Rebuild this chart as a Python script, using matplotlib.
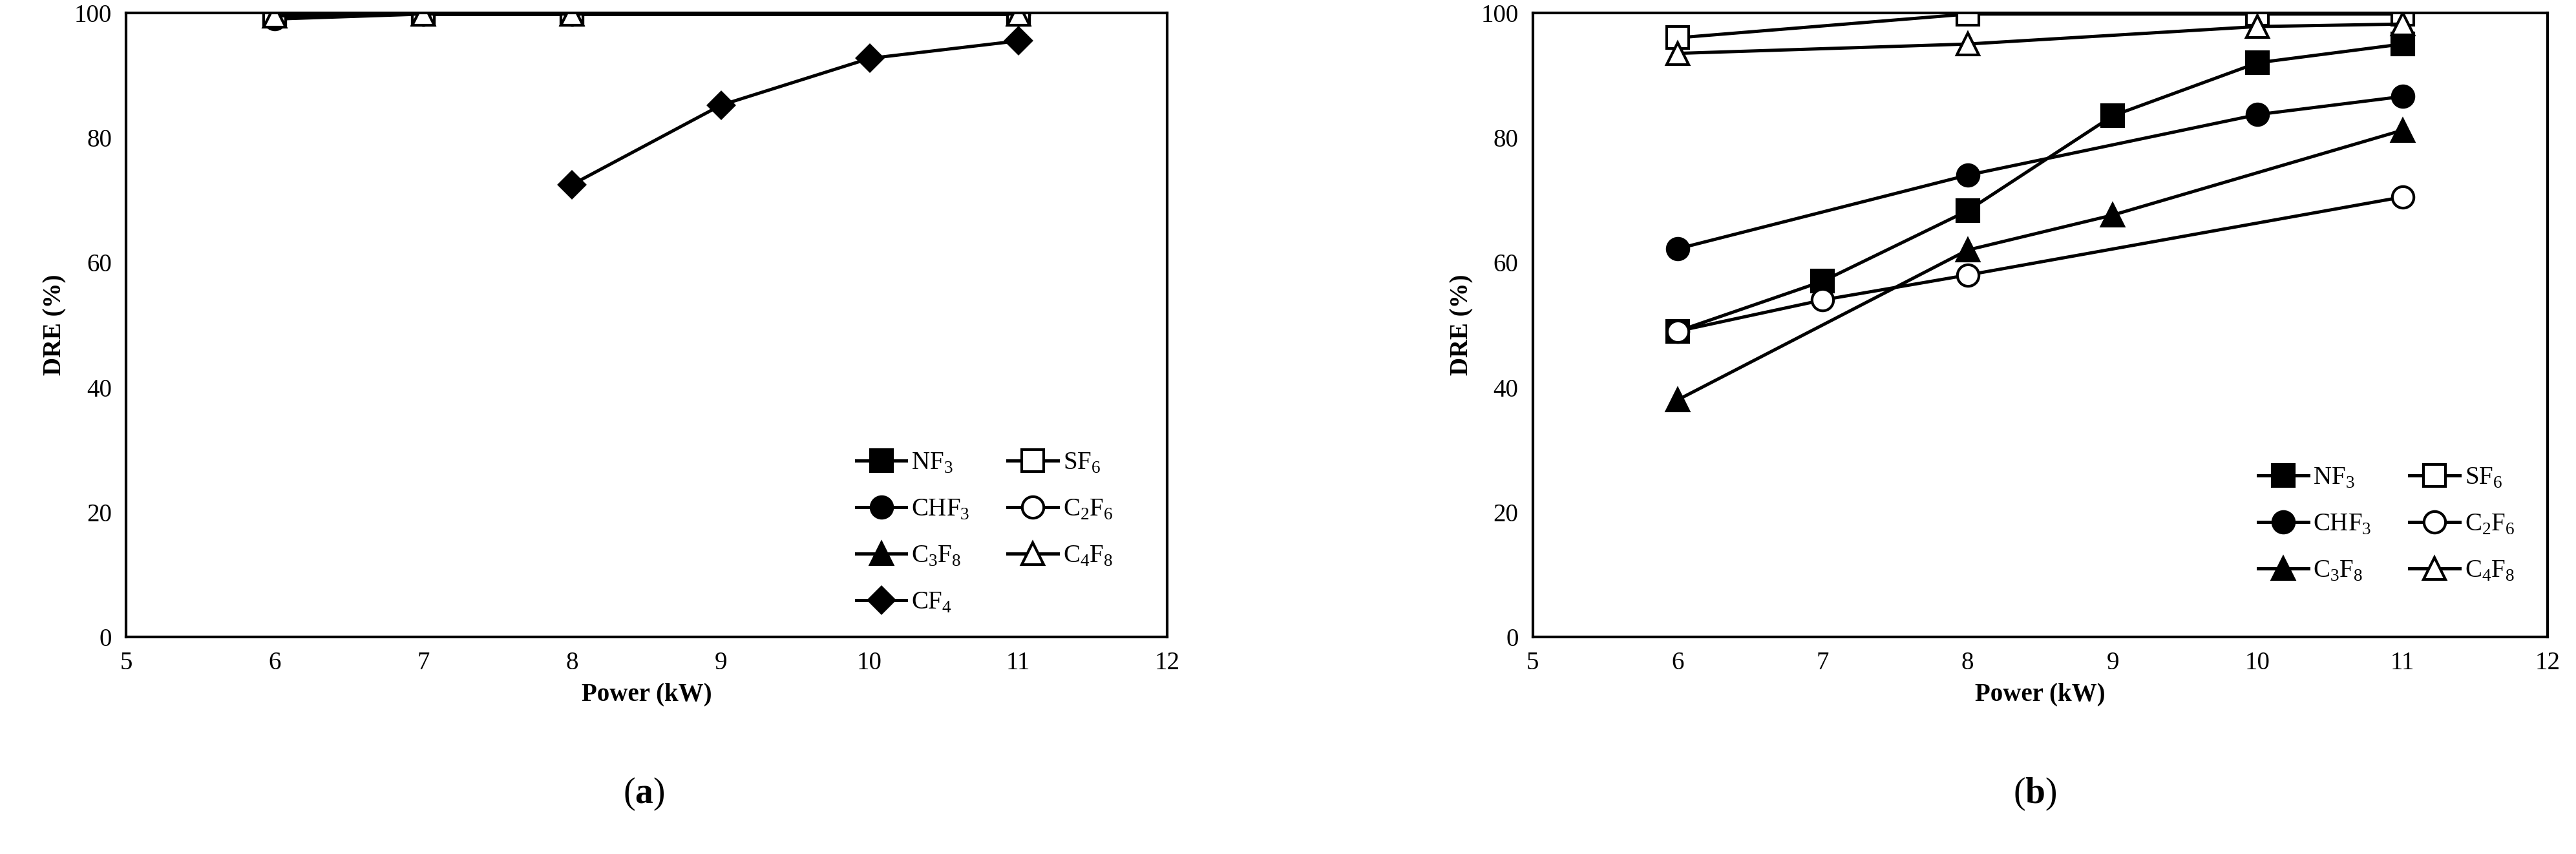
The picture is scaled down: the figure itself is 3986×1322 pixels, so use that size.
import matplotlib
matplotlib.use("Agg")
import matplotlib.pyplot as plt

plt.rcParams['font.family'] = ['Liberation Serif', 'DejaVu Serif']
plt.rcParams['mathtext.fontset'] = 'custom'
plt.rcParams['mathtext.rm'] = 'Liberation Serif'
plt.rcParams['mathtext.bf'] = 'Liberation Serif:bold'

# Panel (a)
a_x = [6, 7, 8, 11]
a_NF3 = [99.8, 99.8, 99.8, 99.8]
a_CHF3 = [99.0, 99.8, 99.8, 99.8]
a_C3F8 = [99.5, 99.8, 99.8, 99.8]
a_SF6 = [99.8, 99.8, 99.8, 99.8]
a_C2F6 = [99.5, 99.8, 99.8, 99.8]
a_C4F8 = [99.5, 99.8, 99.8, 99.8]
a_CF4_x = [8, 9, 10, 11]
a_CF4 = [72.5, 85.2, 92.7, 95.5]

# Panel (b)
b_NF3_x = [6, 7, 8, 9, 10, 11]
b_NF3 = [49, 57, 68.3, 83.5, 92, 95]
b_CHF3_x = [6, 8, 10, 11]
b_CHF3 = [62.2, 74, 83.7, 86.6]
b_C3F8_x = [6, 8, 9, 11]
b_C3F8 = [38, 62, 67.6, 81.2]
b_SF6_x = [6, 8, 10, 11]
b_SF6 = [96, 99.8, 99.8, 99.8]
b_C2F6_x = [6, 7, 8, 11]
b_C2F6 = [49, 54, 58, 70.5]
b_C4F8_x = [6, 8, 10, 11]
b_C4F8 = [93.5, 95, 97.8, 98.2]

xticks = [5, 6, 7, 8, 9, 10, 11, 12]
yticks = [0, 20, 40, 60, 80, 100]

fig = plt.figure(figsize=(19.93, 6.61), dpi=200)
axa = fig.add_axes([0.049, 0.254, 0.404, 0.731])
axb = fig.add_axes([0.595, 0.254, 0.394, 0.731])

lw = 1.8
ms = 12
def st(marker, fill):
    return dict(color='black', lw=lw, marker=marker, ms=ms if marker != 'D' else ms*0.85,
                markerfacecolor='black' if fill else 'white', markeredgecolor='black',
                markeredgewidth=1.5)

def sub(name):
    return name

labels = {'NF3': r'NF$_3$', 'CHF3': r'CHF$_3$', 'C3F8': r'C$_3$F$_8$', 'CF4': r'CF$_4$',
          'SF6': r'SF$_6$', 'C2F6': r'C$_2$F$_6$', 'C4F8': r'C$_4$F$_8$'}

axa.plot(a_x, a_NF3, label=labels['NF3'], **st('s', True))
axa.plot(a_x, a_CHF3, label=labels['CHF3'], **st('o', True))
axa.plot(a_x, a_C3F8, label=labels['C3F8'], **st('^', True))
axa.plot(a_CF4_x, a_CF4, label=labels['CF4'], **st('D', True))
axa.plot(a_x, a_C2F6, label=labels['C2F6'], **st('o', False))
axa.plot(a_x, a_SF6, label=labels['SF6'], **st('s', False))
axa.plot(a_x, a_C4F8, label=labels['C4F8'], **st('^', False))
h, l = axa.get_legend_handles_labels()
order = [0, 1, 2, 3, 5, 4, 6]
axa.legend([h[i] for i in order], [l[i] for i in order], ncol=2, frameon=False,
           loc='lower right', bbox_to_anchor=(0.97, 0.0), fontsize=14,
           handlelength=2.0, columnspacing=1.5, labelspacing=0.9, handletextpad=0.2)

axb.plot(b_NF3_x, b_NF3, label=labels['NF3'], **st('s', True))
axb.plot(b_CHF3_x, b_CHF3, label=labels['CHF3'], **st('o', True))
axb.plot(b_C3F8_x, b_C3F8, label=labels['C3F8'], **st('^', True))
axb.plot(b_SF6_x, b_SF6, label=labels['SF6'], **st('s', False))
axb.plot(b_C2F6_x, b_C2F6, label=labels['C2F6'], **st('o', False))
axb.plot(b_C4F8_x, b_C4F8, label=labels['C4F8'], **st('^', False))
axb.legend(ncol=2, frameon=False, loc='lower right', bbox_to_anchor=(0.99, 0.05), fontsize=14,
           handlelength=2.0, columnspacing=1.5, labelspacing=0.9, handletextpad=0.2)

for ax in (axa, axb):
    ax.set_xlim(5, 12)
    ax.set_ylim(0, 100)
    ax.set_xticks(xticks)
    ax.set_yticks(yticks)
    ax.tick_params(labelsize=14, length=0, pad=8)
    ax.set_xlabel('Power (kW)', fontsize=14, fontweight='bold')
    ax.set_ylabel('DRE (%)', fontsize=14, fontweight='bold')
    for s in ax.spines.values():
        s.set_linewidth(1.5)

fig.text(0.25, 0.06, r'($\mathbf{a}$)', ha='center', fontsize=20)
fig.text(0.79, 0.06, r'($\mathbf{b}$)', ha='center', fontsize=20)

fig.savefig('out.png', dpi=200)
